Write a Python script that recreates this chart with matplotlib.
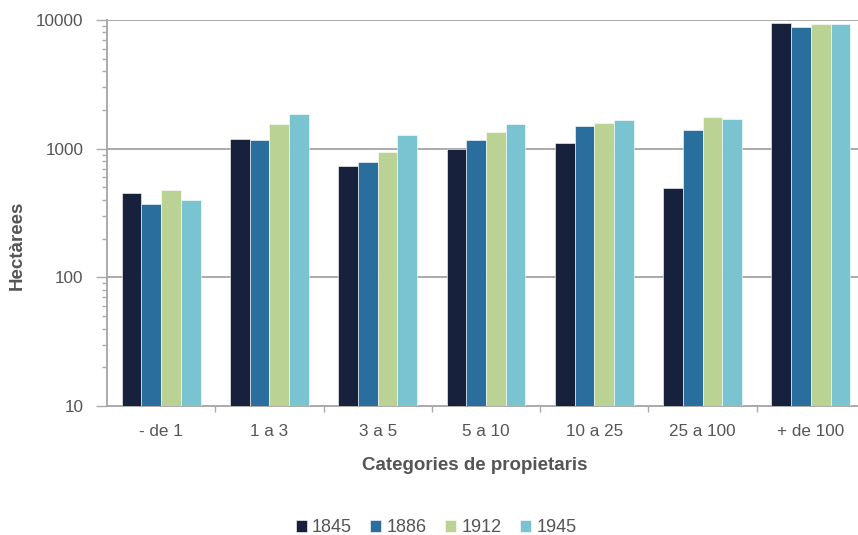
import numpy as np
import matplotlib.pyplot as plt
from matplotlib.ticker import LogLocator, FixedLocator, NullFormatter

categories = ['- de 1', '1 a 3', '3 a 5', '5 a 10', '10 a 25', '25 a 100', '+ de 100']
years = ['1845', '1886', '1912', '1945']
v1845 = [450, 1190, 738, 995, 1107, 499, 9530]
v1886 = [372, 1167, 793, 1167, 1489, 1396, 8830]
v1912 = [479, 1545, 943, 1346, 1591, 1762, 9310]
v1945 = [400, 1867, 1284, 1555, 1657, 1687, 9310]
colors = ['#17213c', '#2a6e9e', '#bbd295', '#7ac3d0']

plt.rcParams['font.family'] = ['Liberation Sans', 'DejaVu Sans']

fig = plt.figure(figsize=(8.58, 5.35), dpi=100)
ax = fig.add_axes([107 / 858, 1 - 406 / 535, 758 / 858, 386 / 535])

x = np.arange(len(categories))
w = 0.182
series = [v1845, v1886, v1912, v1945]
for i, (vals, yr, c) in enumerate(zip(series, years, colors)):
    ax.bar(x + (i - 1.5) * w, vals, w, color=c, label=yr,
           edgecolor='white', linewidth=0.4, zorder=3)

ax.set_yscale('log')
ax.set_ylim(10, 10000)
ax.set_xlim(-0.5, len(categories) - 0.5)
ax.set_yticks([10, 100, 1000, 10000])
ax.set_yticklabels(['10', '100', '1000', '10000'])
ax.yaxis.set_minor_locator(LogLocator(base=10, subs=np.arange(2, 10)))
ax.yaxis.set_minor_formatter(NullFormatter())
ax.grid(axis='y', which='major', color='#aaaaaa', linewidth=1.4, zorder=0)

ax.set_xticks(x)
ax.set_xticklabels(categories)
ax.xaxis.set_minor_locator(FixedLocator(np.arange(0.5, len(categories) - 1, 1)))

gray = '#555555'
ax.tick_params(axis='y', which='major', length=8, color='#aaaaaa', width=1,
               labelsize=12.3, labelcolor=gray, pad=9)
ax.tick_params(axis='y', which='minor', length=3.5, color='#aaaaaa', width=1)
ax.tick_params(axis='x', which='major', length=0, labelsize=12.3,
               labelcolor=gray, pad=13)
ax.tick_params(axis='x', which='minor', length=4.5, color='#aaaaaa', width=1)

for s in ['top', 'right']:
    ax.spines[s].set_visible(False)
for s in ['left', 'bottom']:
    ax.spines[s].set_color('#aaaaaa')
    ax.spines[s].set_linewidth(1.4)

ax.set_ylabel('Hectàrees', fontsize=13.5, fontweight='bold', color=gray)
ax.yaxis.set_label_coords(-0.107, 0.415)
ax.set_xlabel('Categories de propietaris', fontsize=13.5, fontweight='bold',
              color=gray)
ax.xaxis.set_label_coords(0.4855, -0.132)

handles, labels = ax.get_legend_handles_labels()
fig.legend(handles, labels, loc='center', bbox_to_anchor=(436 / 858, 1 - 528 / 535),
           ncol=4, frameon=False, fontsize=13, handlelength=0.62, handleheight=0.62,
           handletextpad=0.3, columnspacing=1.0, labelcolor=gray)

fig.savefig('out.png', dpi=100)
